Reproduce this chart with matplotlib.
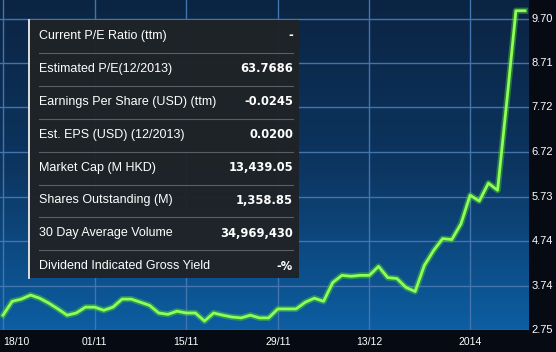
import numpy as np
import matplotlib
matplotlib.use("Agg")
from matplotlib import pyplot as plt
from matplotlib.colors import LinearSegmentedColormap
from matplotlib.patches import Rectangle
from matplotlib.lines import Line2D

# closing prices, one per trading day from 18/10/2013
prices = [3.08, 3.39, 3.44, 3.53, 3.46, 3.35, 3.22, 3.08, 3.13, 3.26,
          3.26, 3.19, 3.26, 3.44, 3.44, 3.37, 3.30, 3.13, 3.10, 3.17,
          3.13, 3.13, 2.95, 3.13, 3.08, 3.04, 3.02, 3.08, 3.02, 3.02,
          3.22, 3.22, 3.22, 3.37, 3.46, 3.39, 3.81, 3.97, 3.95, 3.97,
          3.97, 4.17, 3.92, 3.90, 3.70, 3.61, 4.19, 4.52, 4.79, 4.77,
          5.12, 5.76, 5.63, 6.03, 5.87, 7.84, 9.88, 9.88]

x_tick_pos = [0, 10, 20, 30, 40, 51]
x_tick_labels = ["18/10", "01/11", "15/11", "29/11", "13/12", "2014"]
y_ticks = [2.75, 3.74, 4.74, 5.73, 6.72, 7.72, 8.71, 9.70]

stat_names = ["Current P/E Ratio (ttm)", "Estimated P/E(12/2013)",
              "Earnings Per Share (USD) (ttm)", "Est. EPS (USD) (12/2013)",
              "Market Cap (M HKD)", "Shares Outstanding (M)",
              "30 Day Average Volume", "Dividend Indicated Gross Yield"]
stat_values = ["-", "63.7686", "-0.0245", "0.0200", "13,439.05",
               "1,358.85", "34,969,430", "-%"]

W, H = 556, 352
plt.rcParams['font.family'] = ['Liberation Sans', 'DejaVu Sans']

fig = plt.figure(figsize=(W / 100, H / 100), dpi=100)
fig.patch.set_facecolor("#060a12")


def fx(px):
    return px / W


def fy(py):
    return 1 - py / H


ax = fig.add_axes([0, fy(330), fx(529), 330 / H])
ax.set_xlim(-0.33, 57.43)
ax.set_ylim(2.75, 10.12)

# background gradient
cmap = LinearSegmentedColormap.from_list("bg", ["#0b2443", "#0c3560", "#0d5ea2"])
grad = np.linspace(0, 1, 256).reshape(-1, 1)
ax.imshow(grad, extent=[0, 1, 0, 1], transform=ax.transAxes, cmap=cmap,
          aspect="auto", origin="upper", zorder=0)

for yt in y_ticks:
    ax.axhline(yt, color="#4374ad", lw=1, zorder=1)
for xt in x_tick_pos:
    ax.axvline(xt, color="#4374ad", lw=1, zorder=1)

x = np.arange(len(prices))
ax.plot(x, prices, color="#4fd028", lw=4.5, alpha=0.45, zorder=3,
        solid_joinstyle="round")
ax.plot(x, prices, color="#8dff55", lw=2, zorder=4, solid_joinstyle="round")

for s in ax.spines.values():
    s.set_visible(False)
ax.set_xticks(x_tick_pos)
ax.set_xticklabels(x_tick_labels)
ax.set_yticks(y_ticks)
ax.set_yticklabels(["%.2f" % v for v in y_ticks])
ax.yaxis.tick_right()
ax.tick_params(axis="x", length=0, pad=5, labelsize=7.5, colors="white")
ax.tick_params(axis="y", length=0, pad=2, labelsize=8, colors="white")
for lab in ax.get_yticklabels():
    lab.set_verticalalignment("center")
ax.get_xticklabels()[0].set_horizontalalignment("left")
ax.get_xticklabels()[0].set_x(-0.33)

# info panel
fig.patches.append(Rectangle((fx(28), fy(278)), fx(299) - fx(28), (278 - 20) / H,
                             transform=fig.transFigure, facecolor="#1f2327",
                             edgecolor="none", alpha=0.97, zorder=5))
fig.lines.append(Line2D([fx(28.5), fx(28.5)], [fy(20), fy(278)],
                        transform=fig.transFigure, color="white", lw=1.2, zorder=6))
row_h = 32.9
for i, (name, val) in enumerate(zip(stat_names, stat_values)):
    cy = 36 + i * row_h
    fig.text(fx(39), fy(cy), name, color="white", fontsize=9,
             va="center", ha="left", zorder=7)
    fig.text(fx(293), fy(cy), val, color="white", fontsize=8.3,
             family="DejaVu Sans", fontweight="bold", va="center",
             ha="right", zorder=7)
    if i < len(stat_names) - 1:
        sy = 20 + (i + 1) * row_h
        fig.lines.append(Line2D([fx(39), fx(293)], [fy(sy), fy(sy)],
                                transform=fig.transFigure, color="#5b5f64",
                                lw=0.8, zorder=6))

fig.savefig("out.png", dpi=100, facecolor=fig.get_facecolor())
